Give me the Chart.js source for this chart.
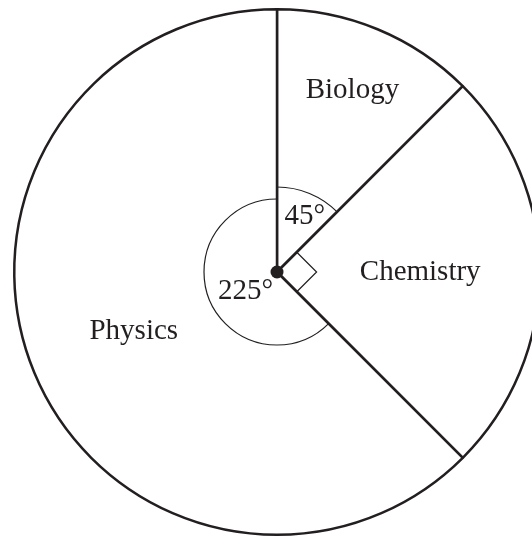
<!DOCTYPE html>
<html>
<head>
<meta charset="utf-8">
<script src="https://cdn.jsdelivr.net/npm/chart.js@4"></script>
<style>
  html, body { margin: 0; padding: 0; background: #fff; overflow: hidden; }
  canvas { display: block; }
</style>
</head>
<body>
<canvas id="pie" width="560" height="538"></canvas>
<script>
// Sujets et angles (degrés)
const subjects = ['Biology', 'Chemistry', 'Physics'];
const angles = [45, 90, 225];

const ink = '#231f20';
const serif = '"Liberation Serif", "DejaVu Serif", serif';

// distance du libellé (fraction du rayon) pour chaque secteur
const labelRadius = [0.75, 0.545, 0.59];

// Dessin des annotations : point central, arcs d'angle, angle droit, textes
const annotations = {
    id: 'annotations',
    afterDatasetsDraw(chart) {
        const ctx = chart.ctx;
        const arcs = chart.getDatasetMeta(0).data;
        const cx = arcs[0].x;
        const cy = arcs[0].y;
        const R = arcs[0].outerRadius;

        ctx.save();
        ctx.strokeStyle = ink;
        ctx.fillStyle = ink;

        // libellés des sujets
        ctx.font = '29px ' + serif;
        ctx.textAlign = 'center';
        ctx.textBaseline = 'middle';
        arcs.forEach((arc, i) => {
            const mid = (arc.startAngle + arc.endAngle) / 2;
            const r = R * labelRadius[i];
            ctx.fillText(subjects[i], cx + r * Math.cos(mid), cy + r * Math.sin(mid));
        });

        ctx.lineWidth = 1.2;
        arcs.forEach((arc, i) => {
            const mid = (arc.startAngle + arc.endAngle) / 2;
            if (angles[i] === 90) {
                // marque d'angle droit
                const s = 28;
                const a1 = arc.startAngle, a2 = arc.endAngle;
                const p1 = [cx + s * Math.cos(a1), cy + s * Math.sin(a1)];
                const p2 = [cx + s * Math.cos(a2), cy + s * Math.sin(a2)];
                ctx.beginPath();
                ctx.moveTo(p1[0], p1[1]);
                ctx.lineTo(p1[0] + p2[0] - cx, p1[1] + p2[1] - cy);
                ctx.lineTo(p2[0], p2[1]);
                ctx.stroke();
            } else {
                const small = angles[i] < 180;
                const ar = small ? 85 : 73;
                ctx.beginPath();
                ctx.arc(cx, cy, ar, arc.startAngle, arc.endAngle);
                ctx.stroke();
                const lr = small ? 62 : 37;
                const shift = small ? 0.07 : -0.16;
                ctx.fillText(angles[i] + '°',
                    cx + lr * Math.cos(mid + shift), cy + lr * Math.sin(mid + shift));
            }
        });

        // point central
        ctx.beginPath();
        ctx.arc(cx, cy, 6.5, 0, Math.PI * 2);
        ctx.fill();
        ctx.restore();
    }
};

new Chart(document.getElementById('pie'), {
    type: 'pie',
    data: {
        labels: subjects,
        datasets: [{
            data: angles,
            backgroundColor: '#ffffff',
            borderColor: ink,
            borderWidth: 2.5
        }]
    },
    options: {
        responsive: false,
        animation: false,
        layout: {
            padding: { left: 13, top: 8, right: 19, bottom: 2 }
        },
        plugins: {
            legend: { display: false },
            tooltip: { enabled: false }
        }
    },
    plugins: [annotations]
});
</script>
</body>
</html>
